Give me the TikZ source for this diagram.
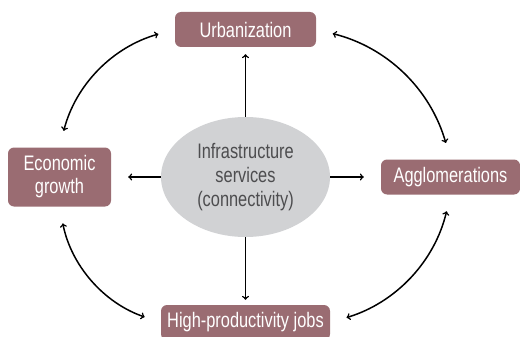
\documentclass[tikz,border=0pt]{standalone}
\usepackage{fontspec}
\setmainfont{Liberation Sans}[FakeStretch=0.78]
\usepackage{tikz}
\usetikzlibrary{shapes.geometric, arrows}
\definecolor{mauve}{RGB}{154,108,114}
\definecolor{lightgrey}{RGB}{209,210,212}
\definecolor{darkgrey}{RGB}{77,77,79}
\tikzstyle{box} = [rectangle, rounded corners=6pt, minimum height=35pt, inner sep=0pt, align=center, fill=mauve, text=white, font=\fontsize{21}{23}\selectfont]
\tikzstyle{hub} = [ellipse, minimum width=169pt, minimum height=120pt, inner sep=0pt, align=center, fill=lightgrey, text=darkgrey, font=\fontsize{21}{24}\selectfont]
\tikzstyle{arrow} = [line width=1.5pt,->,>=to]
\tikzstyle{twoway} = [line width=1.5pt,<->,>=to, shorten >=17pt, shorten <=17pt]

\begin{document}
\begin{tikzpicture}[node distance=147.5pt]
            \useasboundingbox (0,0) rectangle (520pt,-337pt);
            \node (infra) [hub] at (245.5pt,-177pt) {Infrastructure\\services\\(connectivity)};
            \node (urbanization) [box, minimum width=141pt, above of=infra] {Urbanization};
            \node (jobs) [box, minimum width=169pt, node distance=145.5pt, below of=infra] {High-productivity jobs};
            \node (economic-growth) [box, minimum width=103pt, minimum height=59pt, node distance=186pt, left of=infra] {Economic\\growth};
            \node (agglomerations) [box, minimum width=139pt, node distance=205pt, right of=infra] {Agglomerations};

            \draw [arrow, shorten >=7pt] (infra) -- (urbanization);
            \draw [arrow, shorten >=5pt] (infra) -- (jobs);
            \draw [arrow, shorten >=17pt] (infra) -- (economic-growth);
            \draw [arrow, shorten >=17pt] (infra) -- (agglomerations);

            \draw [twoway] (urbanization.west) to[bend right=30] (economic-growth.north);
            \draw [twoway] (urbanization.east) to[bend left=30] (agglomerations.north);
            \draw [twoway] (agglomerations.south) to[bend left=30] (jobs.east);
            \draw [twoway] (economic-growth.south) to[bend right=30] (jobs.west);
        \end{tikzpicture}
\end{document}
